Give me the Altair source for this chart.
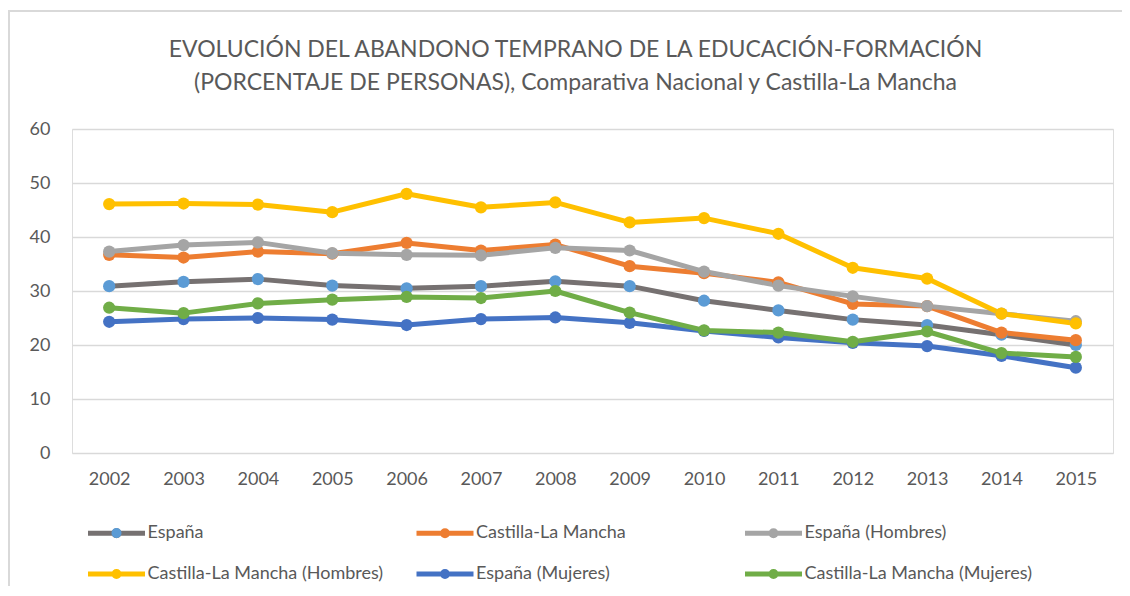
import altair as alt
import pandas as pd

years = ["2002", "2003", "2004", "2005", "2006", "2007", "2008",
         "2009", "2010", "2011", "2012", "2013", "2014", "2015"]
series = ["España", "Castilla-La Mancha", "España (Hombres)",
          "Castilla-La Mancha  (Hombres)", "España (Mujeres)",
          "Castilla-La Mancha (Mujeres)"]
espana = [30.9, 31.7, 32.2, 31.0, 30.5, 30.9, 31.8, 30.9, 28.2, 26.4, 24.7, 23.7, 21.9, 20.0]
clm = [36.7, 36.2, 37.3, 36.9, 38.9, 37.5, 38.6, 34.6, 33.3, 31.6, 27.6, 27.2, 22.3, 20.9]
esp_h = [37.3, 38.5, 39.0, 37.0, 36.7, 36.6, 38.0, 37.5, 33.6, 31.0, 29.0, 27.2, 25.8, 24.4]
clm_h = [46.1, 46.2, 46.0, 44.6, 48.0, 45.5, 46.4, 42.7, 43.5, 40.6, 34.3, 32.3, 25.8, 24.0]
esp_m = [24.3, 24.8, 25.0, 24.7, 23.7, 24.8, 25.1, 24.1, 22.6, 21.4, 20.4, 19.8, 18.0, 15.8]
clm_m = [26.9, 25.9, 27.7, 28.4, 28.9, 28.7, 30.0, 26.0, 22.7, 22.3, 20.6, 22.5, 18.5, 17.8]
values = [espana, clm, esp_h, clm_h, esp_m, clm_m]

line_colors = ["#767171", "#ED7D31", "#A5A5A5", "#FFC000", "#4472C4", "#70AD47"]
marker_colors = ["#5B9BD5", "#ED7D31", "#A5A5A5", "#FFC000", "#4472C4", "#70AD47"]

rows = []
for s, vals in zip(series, values):
    for y, v in zip(years, vals):
        rows.append({"year": y, "serie": s, "valor": v})
df = pd.DataFrame(rows)

FONT = "Lato"
TXT = "#595959"

legend_common = dict(
    orient="none", legendX=13, legendY=395, columns=3, gridAlign="all",
    direction="horizontal",
    title=None, labelFont=FONT, labelFontSize=18, labelColor=TXT,
    labelLimit=500, symbolSize=144, labelOffset=44.5, symbolStrokeWidth=5,
    columnPadding=18.5, rowPadding=15, padding=0,
)

x_enc = alt.X("year:O", sort=years, title=None,
              scale=alt.Scale(type="point", padding=0.5),
              axis=alt.Axis(labelAngle=0, labelFont=FONT, labelFontSize=18,
                            labelColor=TXT, labelPadding=17, ticks=False,
                            domain=False, grid=False))
y_enc = alt.Y("valor:Q", title=None, scale=alt.Scale(domain=[0, 60]),
              axis=alt.Axis(values=[0, 10, 20, 30, 40, 50, 60], labelFont=FONT,
                            labelFontSize=18, labelColor=TXT, labelPadding=22,
                            ticks=False, domain=False, grid=True,
                            gridColor="#D9D9D9", gridWidth=1.5))

base = alt.Chart(df).encode(x=x_enc, y=y_enc)

# legend symbol: thick line plus a small stroked circle (a disc once stroked)
line_symbol = ("M-1,0H8.5"
               "M4.17,0A0.42,0.42,0,1,1,3.33,0A0.42,0.42,0,1,1,4.17,0Z")
lines = base.mark_line(strokeWidth=5, strokeJoin="round", strokeCap="round").encode(
    color=alt.Color("serie:N", sort=series,
                    scale=alt.Scale(domain=series, range=line_colors),
                    legend=alt.Legend(symbolType=line_symbol, **legend_common)),
)

# marker colour differs from line colour only for "España": overlay its marker
marker_symbol = "M4.58,0A0.83,0.83,0,1,1,2.92,0A0.83,0.83,0,1,1,4.58,0Z"
points = base.mark_circle(size=150, opacity=1).encode(
    fill=alt.Fill("serie:N", sort=series,
                  scale=alt.Scale(range=marker_colors),
                  legend=alt.Legend(
                      symbolType=marker_symbol, values=[series[0]],
                      labelExpr="''", **legend_common)),
)

frame = alt.Chart(pd.DataFrame({"k": [0]})).mark_rect(
    fillOpacity=0, stroke="#D9D9D9", strokeWidth=2
).encode(x=alt.value(-63), x2=alt.value(1100), y=alt.value(-118), y2=alt.value(600))

chart = alt.layer(frame, lines, points).properties(
    width=1041, height=324,
    title=alt.TitleParams(
        text=["EVOLUCIÓN DEL ABANDONO TEMPRANO DE LA EDUCACIÓN-FORMACIÓN",
              "(PORCENTAJE DE PERSONAS), Comparativa Nacional y Castilla-La Mancha"],
        font=FONT, fontSize=23, fontWeight="normal", color=TXT,
        anchor="middle", dx=-17, lineHeight=33, offset=-85),
    autosize=alt.AutoSizeParams(type="none"),
    padding={"left": 64, "top": 121, "right": 9, "bottom": 133},
).configure_view(stroke=None).configure(background="white")

chart.save("out.html", embed_options={"renderer": "svg", "actions": False})
